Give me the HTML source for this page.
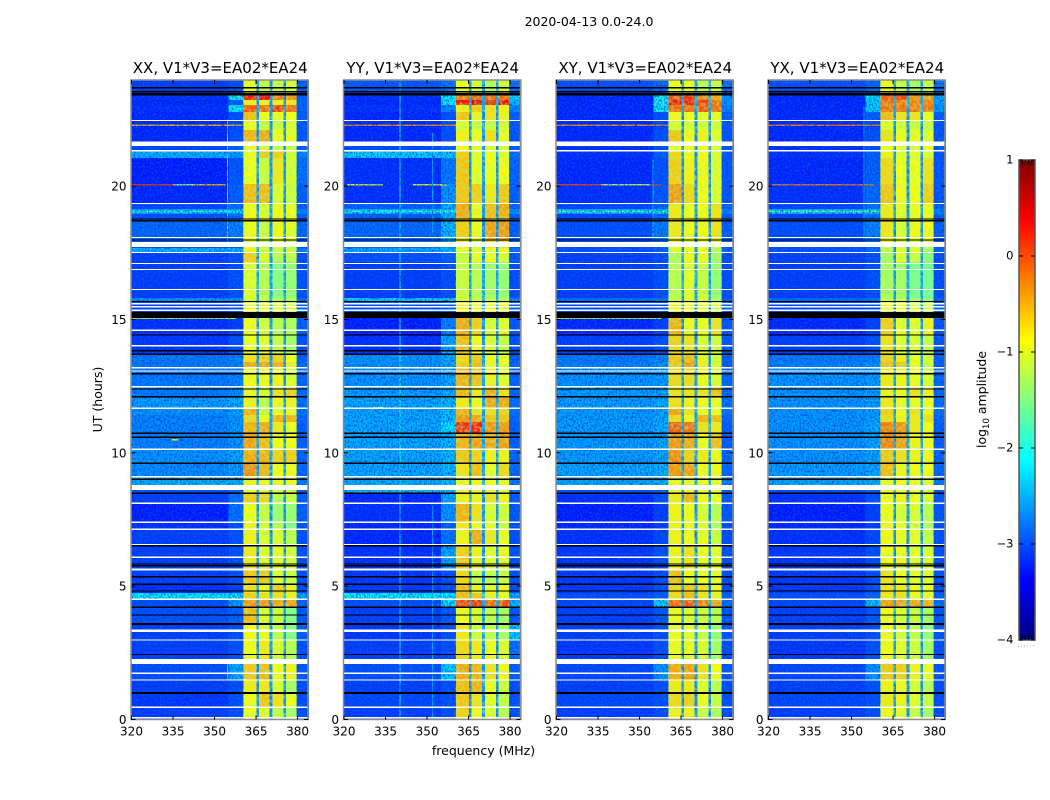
<!DOCTYPE html>
<html lang="en">
<head>
<meta charset="utf-8">
<title>2020-04-13 amplitude waterfall</title>
<style>
html,body{margin:0;padding:0;background:#fff;}
svg{display:block;}
text{font-family:"DejaVu Sans","Liberation Sans",sans-serif;fill:#000;}
</style>
</head>
<body>
<svg id="chart" xmlns="http://www.w3.org/2000/svg" width="1050" height="800" viewBox="0 0 1050 800">
<defs>
<filter id="speckle-dark" x="0" y="0" width="100%" height="100%">
<feTurbulence type="fractalNoise" baseFrequency="0.62 0.48" numOctaves="1" seed="3"/>
<feColorMatrix type="matrix" values="0 0 0 0 0  0 0 0 0 0.05  0 0 0 0 0.75  2.4 0 0 0 -0.95"/>
</filter>
<filter id="speckle-light" x="0" y="0" width="100%" height="100%">
<feTurbulence type="fractalNoise" baseFrequency="0.58 0.5" numOctaves="1" seed="11"/>
<feColorMatrix type="matrix" values="0 0 0 0 0  0 0 0 0 0.7  0 0 0 0 1  2.2 0 0 0 -1.0"/>
</filter>
<filter id="speckle-green" x="0" y="0" width="100%" height="100%">
<feTurbulence type="fractalNoise" baseFrequency="0.35 0.3" numOctaves="2" seed="7"/>
<feColorMatrix type="matrix" values="0 0 0 0 0.35  0 0 0 0 0.95  0 0 0 0 0.3  2.6 0 0 0 -0.95"/>
</filter>
</defs>
<text x="589" y="26" font-size="12.5" text-anchor="middle">2020-04-13 0.0-24.0</text>
<text x="483.5" y="755" font-size="12.5" text-anchor="middle">frequency (MHz)</text>
<text x="102" y="399.5" font-size="12.5" text-anchor="middle" transform="rotate(-90 102 399.5)">UT (hours)</text>
<text x="986" y="399.5" font-size="12.5" text-anchor="middle" transform="rotate(-90 986 399.5)">log<tspan font-size="8.5" dy="3">10</tspan><tspan dy="-3"> amplitude</tspan></text>
</svg>
<script>
// ---- Data ----
const panelNames = ['XX', 'YY', 'XY', 'YX'];
const panelTitles = ['XX, V1*V3=EA02*EA24', 'YY, V1*V3=EA02*EA24', 'XY, V1*V3=EA02*EA24', 'YX, V1*V3=EA02*EA24'];
const freqTicks = [320, 335, 350, 365, 380];
const hourTicks = [0, 5, 10, 15, 20];
const colorbarTicks = [1, 0, -1, -2, -3, -4];
const colorbarTickLabels = ['1', '0', '\u22121', '\u22122', '\u22123', '\u22124'];

// frequency column edges in MHz and which row entry each column shows
// row entries: 0 low, 1 ramp, 2..5 spectral windows, 6 high, 7 window gap
const freqEdges = [320, 355, 360.4, 365.2, 366, 369.9, 370.9, 375, 375.8, 379.7, 384];
const freqColumnEntry = [0, 1, 2, 7, 3, 7, 4, 7, 5, 6];

// UT row edges in hours, top to bottom
const hourEdges = [24, 23.42, 23.23, 23.04, 22.78, 22.48, 22.1, 21.65, 21.32, 21.05, 20.08, 19.37, 19.14, 18.95, 18.69, 17.94, 17.68, 17.53, 17.15, 15.8, 15.65, 15.05, 14.38, 13.67, 13.4, 13.22, 12.47, 12.05, 11.64, 11.42, 11.15, 10.74, 10.1, 9.62, 9.13, 8.79, 8.49, 8.08, 7.37, 7.11, 6.51, 5.61, 5.04, 4.74, 4.48, 4.22, 3.54, 2.98, 2.27, 1.48, 0.96, 0.47, 0];

// log10 amplitude: [low, ramp, win1, win2, win3, win4, high, gap]
const xxRows = [
[-3.1,-3,-.9,-1.1,-1.15,-1,-2.9,-2.75],[-3.2,-2,.35,.4,-.2,-.3,-2.9,-2.75],[-3.25,-2.9,-.8,-.8,-.8,-.75,-2.9,-2.75],[-3.2,-2.1,0,-.1,.1,-.1,-2.9,-2.75],
[-3.25,-3,-.5,-.9,-.9,-.9,-2.9,-2.75],[-3.25,-3.05,-.9,-1.1,-1.1,-1,-2.95,-2.75],[-3.25,-3,-.45,-.4,-.9,-.95,-2.95,-2.75],[-3.05,-2.9,-.9,-1,-1.1,-1.1,-2.9,-2.75],
[-2.45,-2.55,-.9,-.55,-.6,-1.05,-2.7,-2.65],[-3.3,-2.95,-.9,-1.1,-.75,-1.05,-2.8,-2.75],[-3.25,-2.9,-.5,-.5,-1,-1.1,-2.9,-2.75],[-3.05,-2.8,-.85,-1,-.85,-.9,-2.9,-2.75],
[-2.5,-2.45,-.85,-1,-.85,-.9,-2.7,-2.65],[-3,-2.8,-.85,-1,-.85,-.9,-2.9,-2.75],[-2.85,-2.7,-.85,-1.1,-.85,-.95,-2.85,-2.75],[-3,-2.9,-.9,-1.1,-.9,-1,-2.9,-2.75],
[-2.45,-2.45,-.8,-1,-1.1,-1.1,-2.7,-2.55],[-3.1,-3,-.6,-1,-1.2,-1.15,-3,-2.75],[-3.1,-3,-1,-1.2,-1.5,-1.4,-3,-2.65],[-2.6,-2.6,-1,-1.1,-1.2,-1.2,-2.8,-2.55],
[-3.1,-3,-.85,-.9,-1,-1,-2.9,-2.75],[-3.2,-3.1,-.85,-1.05,-1.2,-1.25,-2.9,-2.75],[-3.15,-3,-.9,-.95,-1.1,-1.3,-3,-2.75],[-2.75,-2.7,-.7,-.6,-.6,-.9,-2.9,-2.75],
[-2.75,-2.7,-.4,-.4,-.45,-.8,-2.8,-2.75],[-2.75,-2.7,-.85,-.85,-.8,-1,-2.85,-2.75],[-2.75,-2.65,-.85,-1,-.7,-.6,-2.85,-2.75],[-2.55,-2.5,-.8,-1.2,-.85,-.8,-2.8,-2.65],
[-2.6,-2.5,-.45,-1.1,-.9,-.9,-2.8,-2.65],[-2.7,-2.6,-.65,-.85,-.45,-.45,-2.85,-2.65],[-2.7,-2.6,-.45,-.4,-.75,-.85,-2.9,-2.65],[-2.7,-2.6,-.35,-.5,-.85,-.85,-2.9,-2.65],
[-2.6,-2.5,-.4,-.45,-.6,-.6,-2.85,-2.65],[-2.65,-2.55,-.25,-.45,-.85,-.85,-2.85,-2.65],[-2.45,-2.45,-.8,-.85,-.85,-.85,-2.75,-2.55],[-3,-2.9,-.9,-.95,-1,-1,-2.9,-2.75],
[-3.1,-2.8,-.6,-.65,-1.2,-1.1,-2.9,-2.75],[-3.3,-2.8,-.9,-1.1,-1.35,-1.4,-2.9,-2.75],[-3.2,-3,-.8,-1,-1.2,-1.5,-3,-2.75],[-3.1,-3,-.8,-1,-1,-1.2,-3,-2.75],
[-3.1,-3,-.75,-.95,-.95,-1.05,-3,-2.75],[-3.1,-3,-.55,-.55,-1,-1.1,-3,-2.75],[-3.2,-3.1,-.7,-.85,-.6,-.8,-3,-2.75],[-2.15,-2.2,-.6,-.7,-.7,-.8,-2.5,-2.45],
[-3,-2.6,-.3,-.3,-.4,-.4,-2.9,-2.75],[-3,-2.9,-.5,-1,-1.1,-1.5,-2.95,-2.65],[-3.1,-3,-.85,-.95,-1.15,-1.5,-2.9,-2.65],[-3.1,-3,-.85,-.75,-1,-1.2,-3,-2.75],
[-3,-2.5,-.55,-.5,-.9,-.8,-2.95,-2.75],[-3.1,-3,-.75,-.75,-1,-1.3,-3,-2.75],[-3.15,-3,-.85,-.55,-.7,-.9,-3,-2.75],[-3.1,-3,-.9,-.9,-1.15,-1.3,-3,-2.75]
];
const yyRows = [
[-2.95,-2.8,-.9,-1.05,-1.2,-1.05,-2.8,-2.65],[-3.2,-2.1,-.1,0,-.1,-.1,-2.3,-2.65],[-3.25,-2.15,.35,.5,.3,.4,-2.4,-2.65],[-3.2,-2.7,-.8,-.6,-.7,-.8,-2.7,-2.65],
[-3.25,-3,-.55,-.8,-.7,-.8,-2.9,-2.75],[-3.25,-3,-1,-1.1,-1.1,-1.05,-2.95,-2.75],[-3.25,-3,-.8,-.9,-.7,-.9,-2.95,-2.75],[-3.05,-2.9,-.9,-1,-1,-1,-2.9,-2.75],
[-2.3,-2.35,-.6,-.95,-.9,-1,-2.8,-2.65],[-3.2,-2.75,-.55,-.95,-.9,-.85,-2.85,-2.75],[-3.2,-2.6,-.55,-.6,-.75,-.55,-2.9,-2.75],[-2.9,-2.45,-.4,-.9,-.5,-.4,-2.85,-2.75],
[-2.4,-2.3,-.4,-.8,-.5,-.45,-2.6,-2.65],[-2.9,-2.45,-.4,-.85,-.5,-.45,-2.9,-2.75],[-2.85,-2.4,-.6,-.85,-.35,-.3,-2.9,-2.75],[-2.8,-2.5,-.8,-.9,-.7,-.7,-2.9,-2.75],
[-2.5,-2.4,-.9,-1,-.9,-.9,-2.8,-2.65],[-3,-2.9,-1.1,-.9,-.9,-1,-2.95,-2.75],[-3.1,-3,-1.1,-1.2,-1.3,-1.4,-3,-2.65],[-2.3,-2.3,-1,-1.1,-1.1,-1.2,-2.7,-2.55],
[-3,-2.9,-.8,-.85,-.85,-.95,-2.9,-2.75],[-3.3,-2.7,-.4,-.6,-1,-.95,-2.95,-2.75],[-3.2,-2.5,-.5,-.85,-1,-1.15,-3,-2.75],[-2.6,-2.5,-.65,-.55,-.85,-.9,-2.9,-2.65],
[-2.6,-2.5,-.6,-.5,-.85,-.9,-2.85,-2.65],[-2.6,-2.5,-.45,-.5,-.8,-.95,-2.85,-2.65],[-2.55,-2.45,-.45,-.75,-.45,-.7,-2.85,-2.65],[-2.5,-2.4,-.75,-.85,-.4,-.4,-2.8,-2.65],
[-2.5,-2.4,-.45,-.7,-.7,-.6,-2.8,-2.65],[-2.5,-2.35,-.3,-.4,-.55,-.55,-2.85,-2.65],[-2.5,-2.2,.2,.25,-.3,-.3,-2.9,-2.65],[-2.5,-2.4,-.45,-.35,-.4,-.35,-2.9,-2.65],
[-2.5,-2.4,-.55,-.6,-.8,-.8,-2.85,-2.65],[-2.5,-2.4,-.7,-.5,-.9,-.65,-2.85,-2.65],[-2.45,-2.4,-.85,-.85,-.85,-.9,-2.75,-2.55],[-2.4,-2.4,-.85,-.85,-.85,-.9,-2.8,-2.65],
[-3.25,-2.5,-.8,-.8,-.7,-.8,-2.95,-2.75],[-3.2,-2.6,-.45,-.7,-1,-1.05,-2.95,-2.75],[-3.25,-2.9,-.75,-.9,-.95,-1.1,-3,-2.75],[-3.25,-2.8,-.8,-.4,-.75,-.9,-3,-2.75],
[-3.2,-2.5,-.6,-.8,-.95,-.85,-3,-2.75],[-3.15,-3,-.65,-1.1,-1.15,-1.1,-3,-2.75],[-3.15,-3,-.5,-.8,-.85,-.85,-3,-2.75],[-2.1,-2.15,-.5,-.55,-.8,-.9,-2.5,-2.45],
[-3,-2.2,.1,.15,-.05,.05,-2.4,-2.65],[-3.1,-2.95,-.85,-1,-1.15,-1.3,-2.95,-2.65],[-3.15,-3,-.75,-1.05,-1.15,-1.3,-2.3,-2.65],[-3.1,-3,-.65,-.75,-.85,-1,-2.8,-2.75],
[-3,-2.3,-.4,-.45,-.7,-.85,-2.9,-2.75],[-3.1,-3,-.5,-.45,-.9,-1.1,-3,-2.75],[-3.05,-3,-.55,-.7,-.95,-1.15,-3,-2.75],[-3.1,-3,-.6,-.85,-1,-1.2,-3,-2.75]
];
const xyRows = [
[-3,-2.85,-.9,-.9,-1.2,-1.05,-2.8,-2.65],[-3.25,-2,.1,.2,-.2,-.4,-2.6,-2.65],[-3.25,-2,.3,.3,.1,-.1,-2.6,-2.65],[-3.25,-2.1,-.1,-.1,0,-.1,-2.7,-2.65],
[-3.25,-3,-.85,-.9,-.9,-.9,-2.9,-2.75],[-3.25,-3.05,-1,-1,-1.05,-1.05,-2.95,-2.75],[-3.25,-3,-.55,-.85,-.8,-.95,-2.95,-2.75],[-3.2,-3,-.9,-.9,-.9,-1,-2.95,-2.75],
[-3.2,-2.9,-.65,-.9,-.85,-1,-2.95,-2.75],[-3.25,-3,-.6,-.8,-.85,-1,-2.95,-2.75],[-3.2,-2.95,-.35,-.65,-.85,-1,-2.95,-2.75],[-3.05,-2.9,-.75,-.9,-.85,-.7,-2.9,-2.75],
[-2.45,-2.4,-.75,-.9,-.85,-.7,-2.7,-2.65],[-3.05,-2.85,-.75,-.9,-.85,-.7,-2.9,-2.75],[-3,-2.75,-.75,-.9,-.85,-.7,-2.9,-2.75],[-3,-2.85,-.9,-.9,-.9,-1,-2.9,-2.75],
[-3,-2.9,-1,-.9,-.9,-1.2,-2.9,-2.75],[-3.1,-3,-1.25,-.85,-.9,-1.3,-3,-2.75],[-3.1,-3,-1.2,-.95,-1.1,-1.4,-3,-2.65],[-2.8,-2.75,-1.1,-.95,-1,-1.2,-2.9,-2.65],
[-3.05,-3,-.8,-.9,-.9,-1,-2.9,-2.75],[-3.25,-3.1,-.45,-.85,-.9,-.7,-2.95,-2.75],[-3.1,-3,-.6,-.7,-1,-1.05,-2.95,-2.75],[-2.75,-2.7,-.55,-.5,-.8,-1,-2.9,-2.65],
[-2.7,-2.6,-.55,-.35,-.8,-1,-2.9,-2.65],[-2.6,-2.55,-.65,-.65,-.85,-1,-2.85,-2.65],[-2.55,-2.5,-.7,-.7,-.7,-.55,-2.85,-2.65],[-2.55,-2.5,-.7,-.8,-.85,-.9,-2.8,-2.65],
[-2.55,-2.5,-.35,-.7,-.9,-.9,-2.8,-2.65],[-2.55,-2.5,-.65,-.85,-.45,-.5,-2.85,-2.65],[-2.55,-2.45,0,-.1,-.7,-.75,-2.9,-2.65],[-2.55,-2.5,-.3,-.4,-.85,-.5,-2.9,-2.65],
[-2.55,-2.5,-.25,-.6,-.75,-.85,-2.85,-2.65],[-2.5,-2.45,-.3,-.35,-.85,-.85,-2.85,-2.65],[-2.5,-2.45,-.85,-.85,-.9,-.9,-2.75,-2.55],[-3,-2.9,-.85,-.85,-.9,-.9,-2.9,-2.75],
[-3.2,-3,-.75,-.45,-.85,-.9,-2.95,-2.75],[-3.3,-3.1,-.8,-.85,-1,-1.2,-2.95,-2.75],[-3.25,-3.1,-.8,-.9,-.95,-1.25,-3,-2.75],[-3.2,-3.05,-.8,-.85,-.9,-1.1,-3,-2.75],
[-3.15,-3,-.8,-.7,-.9,-.9,-3,-2.75],[-3.15,-3,-.5,-.85,-.9,-.9,-3,-2.75],[-3.15,-3,-.6,-.55,-.7,-.85,-3,-2.75],[-3,-2.9,-.65,-.5,-.7,-.8,-2.9,-2.65],
[-3.05,-2.3,-.1,0,-.2,-.35,-2.8,-2.65],[-3.1,-2.95,-.85,-1,-1.1,-1.2,-2.95,-2.65],[-3.1,-3,-.85,-.95,-1.1,-1.4,-2.95,-2.65],[-3.15,-3,-.85,-.9,-1,-1.3,-3,-2.75],
[-3.05,-2.6,-.4,-.35,-.7,-.85,-2.95,-2.75],[-3.1,-3,-.75,-.75,-1,-1.2,-3,-2.75],[-3.05,-3,-.65,-.6,-.9,-1.1,-3,-2.75],[-3.1,-3,-.8,-.8,-1.1,-1.25,-3,-2.75]
];
const yxRows = [
[-3,-2.85,-.85,-1.1,-1.3,-1.1,-2.8,-2.65],[-3.25,-2.2,0,.1,-.3,-.3,-2.5,-2.65],[-3.25,-2.3,-.1,-.2,-.2,-.2,-2.5,-2.65],[-3.25,-2.3,-.15,-.1,-.2,-.15,-2.6,-2.65],
[-3.25,-2.9,-.5,-.7,-.7,-.9,-2.9,-2.75],[-3.25,-3.05,-1,-1.05,-1.1,-1.1,-2.95,-2.75],[-3.25,-3,-.7,-.85,-.85,-.95,-2.95,-2.75],[-3.2,-3,-.9,-.95,-1,-.9,-2.95,-2.75],
[-3.2,-2.9,-.8,-1,-.95,-.95,-2.95,-2.75],[-3.25,-2.9,-.65,-.9,-.9,-.7,-2.95,-2.75],[-3.2,-2.85,-.55,-.85,-.9,-.6,-2.95,-2.75],[-3.05,-2.8,-.75,-.95,-.9,-.85,-2.9,-2.75],
[-2.45,-2.4,-.75,-.95,-.9,-.85,-2.7,-2.65],[-3.05,-2.8,-.75,-1,-.9,-.85,-2.9,-2.75],[-3,-2.7,-.75,-1,-.85,-.85,-2.9,-2.75],[-3,-2.85,-1,-1,-.95,-1,-2.9,-2.75],
[-3,-2.85,-1.2,-.95,-1,-1.3,-2.9,-2.75],[-3.1,-3,-1.3,-1,-1.1,-1.45,-3,-2.75],[-3.1,-3,-1.3,-1.3,-1.55,-1.6,-3,-2.65],[-2.85,-2.8,-1.1,-1.15,-1.3,-1.4,-2.9,-2.65],
[-3.05,-3,-.85,-.9,-1,-1.05,-2.9,-2.75],[-3.25,-3.1,-.6,-.9,-.95,-.8,-2.95,-2.75],[-3.1,-3,-.7,-.95,-1,-1.1,-2.95,-2.75],[-2.75,-2.7,-.6,-.75,-.9,-1.05,-2.9,-2.65],
[-2.7,-2.6,-.5,-.55,-.9,-1.05,-2.9,-2.65],[-2.6,-2.55,-.75,-.8,-.85,-1,-2.85,-2.65],[-2.6,-2.55,-.8,-.85,-.7,-.8,-2.85,-2.65],[-2.6,-2.55,-.75,-.9,-.85,-.9,-2.8,-2.65],
[-2.6,-2.55,-.6,-.85,-.7,-.8,-2.8,-2.65],[-2.6,-2.55,-.65,-.8,-.75,-.7,-2.85,-2.65],[-2.6,-2.5,-.2,-.3,-.75,-.85,-2.9,-2.65],[-2.6,-2.5,-.2,-.35,-.8,-.85,-2.9,-2.65],
[-2.6,-2.5,-.55,-.7,-.8,-.85,-2.85,-2.65],[-2.55,-2.5,-.5,-.8,-.85,-.85,-2.85,-2.65],[-2.5,-2.45,-.85,-.85,-.85,-.9,-2.75,-2.55],[-3,-2.9,-.85,-.9,-.9,-.9,-2.9,-2.75],
[-3.2,-3,-.85,-.8,-.9,-1,-2.95,-2.75],[-3.3,-3.1,-.9,-1,-1,-1.2,-2.95,-2.75],[-3.25,-3.1,-.85,-.95,-1,-1.25,-3,-2.75],[-3.2,-3.05,-.85,-.9,-.95,-1.15,-3,-2.75],
[-3.15,-3,-.85,-.85,-.95,-1,-3,-2.75],[-3.15,-3,-.7,-.9,-.95,-.95,-3,-2.75],[-3.15,-3,-.7,-.75,-.85,-.9,-3,-2.75],[-3,-2.85,-.75,-.7,-.85,-.9,-2.9,-2.65],
[-3.05,-2.4,-.35,-.4,-.4,-.45,-2.8,-2.65],[-3.1,-2.95,-.85,-1,-1.1,-1.3,-2.95,-2.65],[-3.1,-3,-.85,-1,-1.15,-1.4,-2.95,-2.65],[-3.15,-3,-.85,-.95,-1.05,-1.3,-3,-2.75],
[-3.05,-2.6,-.55,-.6,-.8,-.9,-2.95,-2.75],[-3.1,-3,-.8,-.85,-1,-1.2,-3,-2.75],[-3.05,-3,-.75,-.8,-.95,-1.1,-3,-2.75],[-3.1,-3,-.85,-.85,-1.1,-1.3,-3,-2.75]
];
const panelRows = [xxRows, yyRows, xyRows, yxRows];

// flagged integrations, [UT hour, thickness in hours]
const whiteFlags = [[22.46,.05],[21.58,.17],[21.33,.05],[19.35,.05],[18.07,.05],[17.81,.19],[17.51,.05],[17.1,.05],[16.87,.05],[16.12,.05],[15.59,.05],[15.47,.05],[15.34,.05],[14.59,.05],[14.02,.05],[13.19,.05],[13.07,.05],[12.48,.05],[11.67,.05],[10.13,.05],[9.1,.05],[8.7,.19],[8.11,.05],[7.39,.05],[7.13,.05],[6.55,.05],[6.08,.05],[5.63,.08],[4.51,.05],[3.33,.08],[2.98,.05],[2.17,.19],[1.73,.05],[1.48,.05],[.46,.05],[.06,.05]];
const blackFlags = [[23.69,.05],[23.54,.05],[23.45,.09],[18.77,.04],[18.7,.05],[17.98,.05],[15.67,.05],[15.17,.22],[14.42,.05],[13.83,.05],[13.7,.05],[12.97,.05],[12.39,.05],[12.1,.05],[10.73,.05],[10.58,.05],[9.61,.05],[9.01,.05],[8.48,.05],[6.52,.05],[5.83,.05],[5.76,.05],[5.35,.05],[5.07,.05],[4.82,.05],[4.21,.05],[3.92,.05],[3.58,.08],[2.44,.05],[1,.07]];

// narrow horizontal interference: [panel, hour, thickness h, from MHz, to MHz, log10 amp]
const rfiRows = [
[0,22.29,.05,320,360.4,-.5],[1,22.29,.05,320,360.4,-.3],[2,22.29,.05,320,360.4,-.3],[3,22.29,.05,320,360.4,-.2],
[0,20.06,.05,320,335,.2],[0,20.06,.05,335,343,-1.3],[0,20.06,.05,343,354,-.5],[1,20.06,.05,321,334,-.9],[1,20.06,.05,345,357,-.9],
[2,20.06,.05,320,336,.1],[2,20.06,.05,336,354,-1.2],[2,20.06,.05,354,358,.05],[3,20.06,.05,321,358,-.2],
[0,19.07,.07,320,360,-1.9],[1,19.07,.07,320,360,-1.9],[2,19.07,.07,320,360,-1.8],[3,19.07,.07,320,360,-1.7],
[0,15.04,.05,320,358,-1],[2,15.04,.05,320,358,-1],[1,11.7,.05,330,334,-1.5],[0,10.5,.05,334,337,-.8]
];
// vertical interference: [panel, MHz, hour from, hour to, log10 amp]
const rfiColumns = [
[0,354.5,17.8,22.5,-2],[0,354.5,1.5,2.2,-2],[1,340,0,24,-2],[1,351.8,17.6,22,-2.5],[1,351.8,0,8,-2.5],
[2,354.6,18,21,-2.3],[3,354.4,18,23,-2.4]
];

// ---- Axis functions ----
const NS = 'http://www.w3.org/2000/svg';
const svg = document.getElementById('chart');
const panelLeft = [131.5, 344, 556.5, 768.5];
const pxPerMHz = 2.768;
const pxPerHour = 26.67;
const axisBottom = 719.5;
const axisTop = 80;
const axisWidth = 176.5;
function xScale(p, mhz) { return panelLeft[p] + (mhz - 320) * pxPerMHz; }
function yScale(h) { return axisBottom - h * pxPerHour; }
function jetChannel(t) { return Math.max(0, Math.min(1, 1.5 - Math.abs(4 * t))); }
function jet(v) {
  const t = Math.max(0, Math.min(1, (v + 4) / 5));
  const r = jetChannel(t - 0.75), g = jetChannel(t - 0.5), b = jetChannel(t - 0.25);
  return 'rgb(' + Math.round(r * 255) + ',' + Math.round(g * 255) + ',' + Math.round(b * 255) + ')';
}
function shape(tag, parent, attrs) {
  const el = document.createElementNS(NS, tag);
  for (const k in attrs) el.setAttribute(k, attrs[k]);
  parent.appendChild(el);
  return el;
}

panelNames.forEach(function (name, p) {
  const g = shape('g', svg, {});
  
  
  const x0 = panelLeft[p];

  const rows = panelRows[p];
  rows.forEach(function (row, r) {
    const top = yScale(hourEdges[r]);
    const bottom = yScale(hourEdges[r + 1]);
    freqColumnEntry.forEach(function (entry, c) {
      const left = xScale(p, freqEdges[c]);
      const right = xScale(p, freqEdges[c + 1]);
      const cell = shape('rect', g, { x: left, y: top, width: right - left + 0.5, height: bottom - top + 0.5, fill: jet(row[entry]), 'shape-rendering': 'crispEdges' });
      
      
    });
  });

  rfiRows.filter(function (d) { return d[0] === p; }).forEach(function (d) {
    const line = shape('rect', g, { x: xScale(p, d[3]), y: yScale(d[1]) - 0.5, width: xScale(p, d[4]) - xScale(p, d[3]), height: Math.max(1, d[2] * pxPerHour), fill: jet(d[5]), 'shape-rendering': 'crispEdges' });
    
    
  });
  rfiColumns.filter(function (d) { return d[0] === p; }).forEach(function (d) {
    const line = shape('rect', g, { x: xScale(p, d[1]), y: yScale(d[3]), width: 1, height: yScale(d[2]) - yScale(d[3]), fill: jet(d[4]), 'shape-rendering': 'crispEdges' });
    
    
  });

  [['speckle-dark', 1], ['speckle-light', 0.28]].forEach(function (s) {
    const tex = shape('rect', g, { x: x0, y: axisTop, width: xScale(p, 360.4) - x0, height: axisBottom - axisTop, filter: 'url(#' + s[0] + ')', opacity: s[1] });
    
    
    const texHi = shape('rect', g, { x: xScale(p, 379.7), y: axisTop, width: xScale(p, 384) - xScale(p, 379.7), height: axisBottom - axisTop, filter: 'url(#' + s[0] + ')', opacity: s[1] });
    
    
  });
  const winTex = shape('rect', g, { x: xScale(p, 360.4), y: axisTop, width: xScale(p, 379.7) - xScale(p, 360.4), height: axisBottom - axisTop, filter: 'url(#speckle-green)', opacity: 0.6 });
  
  

  whiteFlags.forEach(function (f) {
    const flag = shape('rect', g, { x: x0, y: yScale(f[0] + f[1] / 2), width: axisWidth, height: f[1] * pxPerHour, fill: '#fff', 'shape-rendering': 'crispEdges' });
    
    
  });
  blackFlags.forEach(function (f) {
    const flag = shape('rect', g, { x: x0, y: yScale(f[0] + f[1] / 2), width: axisWidth, height: f[1] * pxPerHour, fill: '#000', 'shape-rendering': 'crispEdges' });
    
    
  });

  const frame = shape('rect', g, { x: x0 - 0.5, y: axisTop, width: axisWidth + 0.5, height: axisBottom - axisTop, fill: 'none', stroke: '#8c8c8c', 'stroke-width': 1.5 });
  
  

  freqTicks.forEach(function (f) {
    const x = xScale(p, f);
    const tb = shape('path', g, { d: 'M' + x + ' ' + axisBottom + 'v-4M' + x + ' ' + axisTop + 'v4', stroke: '#000', 'stroke-width': 1, fill: 'none' });
    
    
    const lab = shape('text', g, { x: x, y: 735.5, 'font-size': 12, 'text-anchor': 'middle' });
    lab.textContent = String(f);
    
    
  });
  hourTicks.forEach(function (h) {
    const y = yScale(h);
    const tk = shape('path', g, { d: 'M' + x0 + ' ' + y + 'h4M' + (x0 + axisWidth) + ' ' + y + 'h-4', stroke: '#000', 'stroke-width': 1, fill: 'none' });
    
    
    const lab = shape('text', g, { x: x0 - 5, y: y + 4.5, 'font-size': 12, 'text-anchor': 'end' });
    lab.textContent = String(h);
    
    
  });

  const title = shape('text', g, { x: x0 + axisWidth / 2 + 0.5, y: 73, 'font-size': 15, 'text-anchor': 'middle' });
  title.textContent = panelTitles[p];
  
  
});

// ---- Colorbar ----
const cbTop = 160, cbBottom = 640, cbLeft = 1019, cbWidth = 16;
function cbY(v) { return cbBottom - (v + 4) / 5 * (cbBottom - cbTop); }
const cb = shape('g', svg, {});


for (let v = -4; v < 1; v += 0.02) {
  const s = shape('rect', cb, { x: cbLeft, y: cbY(v + 0.02), width: cbWidth, height: cbY(v) - cbY(v + 0.02) + 0.5, fill: jet(v + 0.01), 'shape-rendering': 'crispEdges' });
  
  
}
const cbFrame = shape('rect', cb, { x: cbLeft, y: cbTop, width: cbWidth, height: cbBottom - cbTop, fill: 'none', stroke: '#555', 'stroke-width': 1.5 });


colorbarTicks.forEach(function (v, i) {
  const y = cbY(v);
  const t = shape('path', cb, { d: 'M' + cbLeft + ' ' + y + 'h4M' + (cbLeft + cbWidth) + ' ' + y + 'h-4', stroke: '#000', 'stroke-width': 1, fill: 'none' });
  
  
  const lab = shape('text', cb, { x: 1013.5, y: y + 3.5, 'font-size': 11.5, 'text-anchor': 'end' });
  lab.textContent = colorbarTickLabels[i];
  
  
});
[0.2, 0.4, 0.6, 0.8].forEach(function (frac) {
  const x = cbLeft + cbWidth * frac;
  const m = shape('path', cb, { d: 'M' + x + ' ' + cbTop + 'v5M' + x + ' ' + cbBottom + 'v-5', stroke: '#000', 'stroke-width': 1, fill: 'none' });
  
  
});
[1018, 1021, 1024, 1027, 1030, 1033].forEach(function (x) {
  const d = shape('rect', cb, { x: x, y: 645.5, width: 1, height: 1, fill: '#aaa' });
  
  
});
</script>
</body>
</html>
